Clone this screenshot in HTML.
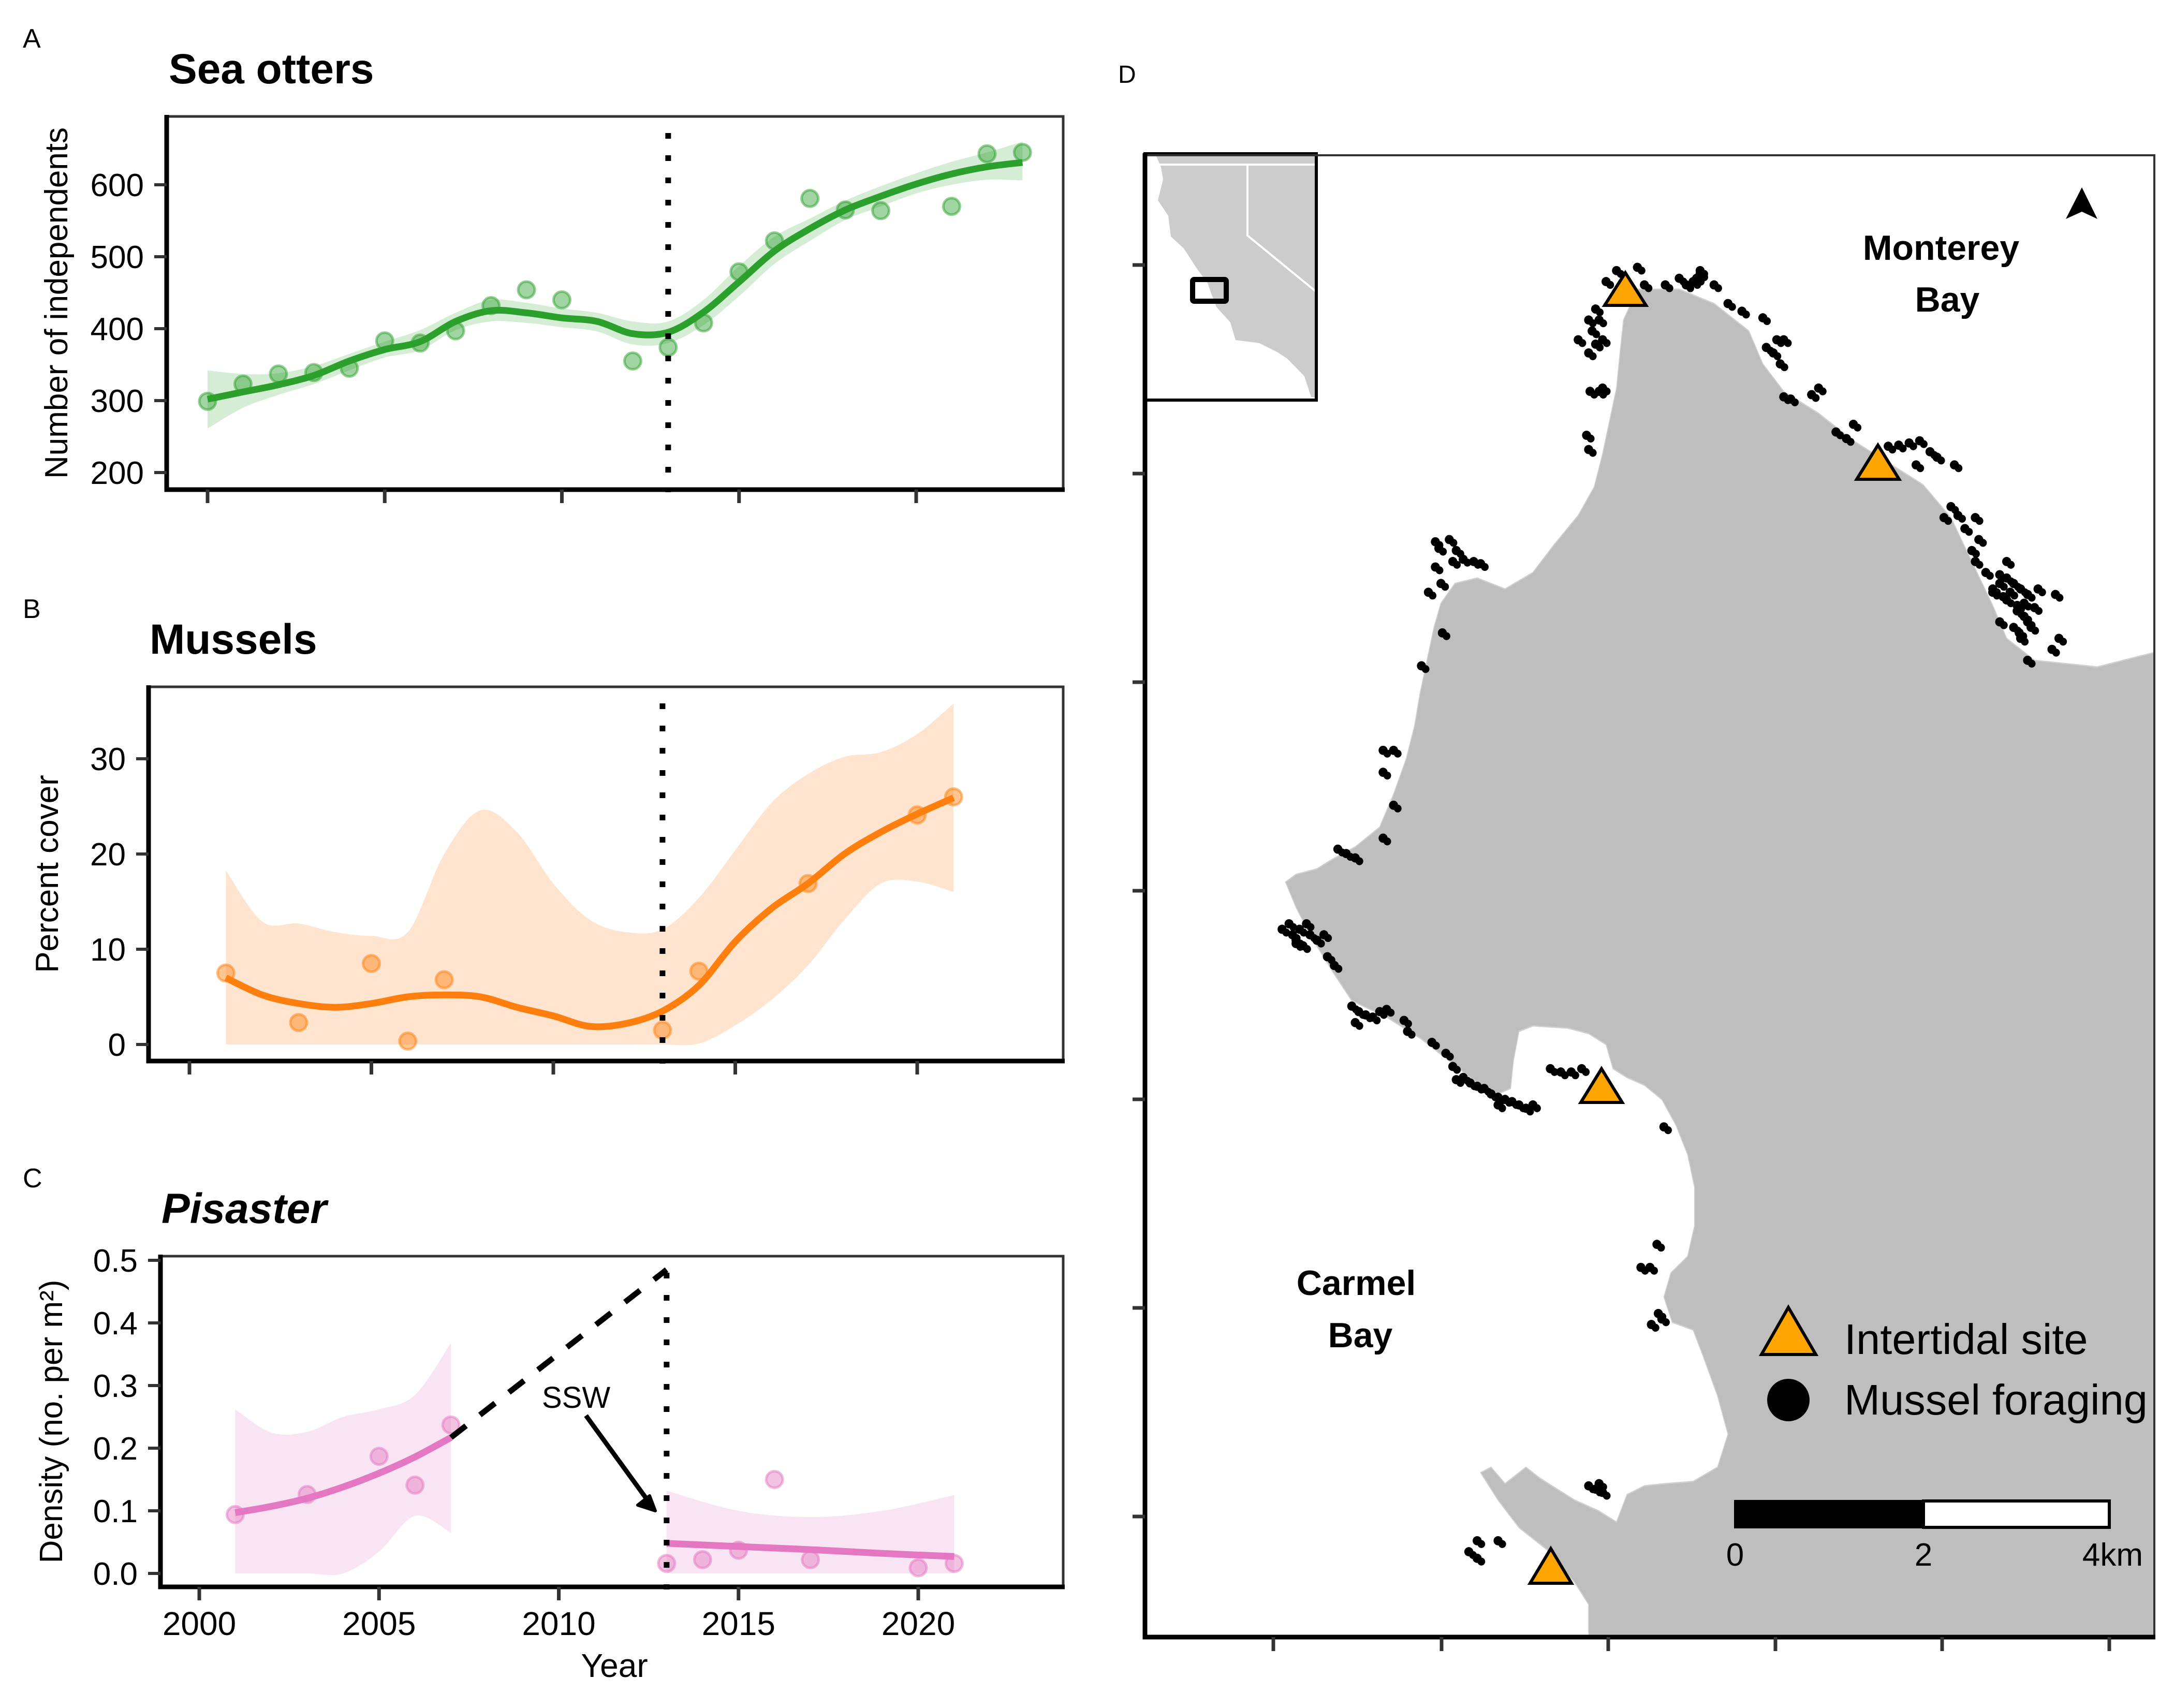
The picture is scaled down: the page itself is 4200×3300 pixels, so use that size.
<!DOCTYPE html>
<html><head><meta charset="utf-8"><title>Sea otters, mussels, Pisaster</title>
<style>
html,body{margin:0;padding:0;background:#fff;}
svg{display:block;font-family:"Liberation Sans",Arial,sans-serif;}
</style></head>
<body>
<svg id="fig" xmlns="http://www.w3.org/2000/svg" width="4200" height="3300" viewBox="0 0 4200 3300">
<rect x="0" y="0" width="4200" height="3300" fill="#fff"/>
<g id="plots"></g>

<!-- Map panel D -->
<g id="map">
  <text x="2160" y="160" font-size="48">D</text>
  <g transform="translate(2100,-18) scale(1.346,2.121)">
    <path fill="#bebebe" stroke="#d0d0d0" stroke-width="1.2" d="M770,300 L790,272 L850,272 L900,285 L950,310 L970,340 L1000,365 L1050,385 L1100,410 L1150,430 L1200,450 L1240,480 L1270,520 L1300,560 L1320,590 L1360,610 L1450,616 L1531,603 L1531,1498 L720,1498 L720,1470 L700,1450 L660,1420 L620,1400 L590,1375 L565,1350 L580,1345 L600,1360 L630,1345 L650,1355 L700,1375 L735,1385 L760,1395 L775,1370 L800,1362 L830,1360 L870,1358 L905,1345 L920,1315 L905,1280 L885,1245 L870,1220 L840,1213 L828,1190 L838,1168 L862,1153 L872,1125 L872,1090 L862,1060 L845,1033 L825,1010 L800,997 L775,990 L755,982 L745,960 L720,950 L690,945 L640,943 L620,948 L612,975 L608,1000 L590,1005 L560,995 L520,975 L480,955 L430,935 L380,920 L352,893 L322,862 L300,835 L285,812 L300,805 L330,800 L350,792 L385,780 L420,762 L440,732 L458,700 L470,670 L478,640 L488,610 L498,580 L508,558 L528,540 L560,535 L600,545 L640,530 L670,505 L705,478 L728,452 L740,422 L750,392 L760,362 L765,330 Z"/>
    <g id="dots"></g>
  </g>
  <!-- inset -->
  <g>
    <rect x="2212" y="297" width="330" height="476" fill="#fff"/>
    <path fill="#cccccc" d="M2233,300 L2542,300 L2542,768 L2533,767 L2520,727 L2487,693 L2467,680 L2433,663 L2387,657 L2377,623 L2350,593 L2340,567 L2333,547 L2313,520 L2300,500 L2287,480 L2262,457 L2257,417 L2237,387 L2247,347 L2243,323 Z"/>
    <path d="M2240,318 L2542,318 M2410,318 L2410,455 L2542,563" stroke="#fff" stroke-width="4" fill="none"/>
    <rect x="2304" y="540" width="65" height="42" rx="3" fill="none" stroke="#000" stroke-width="10"/>
    <rect x="2212" y="297" width="331" height="476" fill="none" stroke="#000" stroke-width="6"/>
  </g>
  <!-- frame -->
  <path d="M2212,300 L4162,300 L4162,3163" stroke="#333" stroke-width="4" fill="none"/>
  <path d="M2212,296 L2212,3163 L4164,3163" stroke="#000" stroke-width="9" fill="none"/>
  <g id="mapticks" stroke="#333" stroke-width="7"></g>
  <!-- site triangles -->
  <g fill="#ffa500" stroke="#000" stroke-width="6" stroke-linejoin="miter">
    <polygon points="3140,527 3100,590 3180,590"/>
    <polygon points="3628,860 3587,926 3669,926"/>
    <polygon points="3094,2065 3054,2130 3134,2130"/>
    <polygon points="2996,2992 2956,3059 3036,3059"/>
  </g>
  <polygon points="4022,362 3991,423 4022,409 4052,423" fill="#000"/>
  <g font-weight="bold" font-size="68" text-anchor="middle">
    <text x="3750" y="502">Monterey</text>
    <text x="3762" y="602">Bay</text>
    <text x="2620" y="2502">Carmel</text>
    <text x="2628" y="2603">Bay</text>
  </g>
  <!-- legend -->
  <g>
    <polygon points="3455,2526 3403,2617 3508,2617" fill="#ffa500" stroke="#000" stroke-width="6"/>
    <circle cx="3455" cy="2705" r="41" fill="#000"/>
    <text x="3563" y="2616" font-size="83">Intertidal site</text>
    <text x="3563" y="2733" font-size="83">Mussel foraging</text>
  </g>
  <!-- scale bar -->
  <g>
    <rect x="3350" y="2898" width="366" height="55" fill="#000"/>
    <rect x="3716" y="2900" width="359" height="51" fill="#fff" stroke="#000" stroke-width="6"/>
    <g font-size="62" text-anchor="middle">
      <text x="3352" y="3025">0</text>
      <text x="3716" y="3025">2</text>
      <text x="4140" y="3025" text-anchor="end">4km</text>
    </g>
  </g>
</g>
</svg>
<script>
// ---------- Panel A: Sea otters ----------
const otterYears = [2000,2001,2002,2003,2004,2005,2006,2007,2008,2009,2010,2012,2013,2014,2015,2016,2017,2018,2019,2021,2022,2023];
const otterCounts = [299,323,337,339,345,383,380,397,432,454,440,355,374,408,479,522,581,565,564,570,643,645];
const otterFitYears = [2000,2001,2002,2003,2004,2005,2006,2007,2008,2009,2010,2011,2012,2013,2014,2015,2016,2017,2018,2019,2020,2021,2022,2023];
const otterFit = [302,312,322,335,355,371,382,410,425,422,415,410,393,395,423,465,508,539,565,584,601,615,625,631];
const otterHi = [342,337,338,348,365,382,398,422,440,436,428,422,410,410,440,487,528,553,578,598,616,632,645,660];
const otterLo = [261,290,308,323,342,360,370,398,410,408,402,396,378,380,405,445,490,522,551,570,588,600,607,606];
const otterTicks = [200,300,400,500,600];

// ---------- Panel B: Mussels ----------
const musselYears = [2001,2003,2005,2006,2007,2013,2014,2017,2020,2021];
const musselCover = [7.5,2.3,8.5,0.35,6.8,1.5,7.7,16.9,24.1,26.0];
const musselFitYears = [2001,2002,2003,2004,2005,2006,2007,2008,2009,2010,2011,2012,2013,2014,2015,2016,2017,2018,2019,2020,2021];
const musselFit = [7.0,5.2,4.3,3.9,4.3,5.0,5.2,5.0,3.9,3.0,1.9,2.2,3.5,6.2,10.8,14.3,16.9,20.0,22.3,24.2,25.9];
const musselHi = [18.3,12.9,12.7,11.8,11.4,11.8,20.0,24.6,22.3,16.9,13.1,11.8,12.1,15.4,20.4,25.4,28.4,30.2,30.7,32.6,35.8];
const musselLo = [0,0,0,0,0,0,0,0,0,0,0,0,0,0.1,2.0,4.7,8.3,13.1,16.9,17.1,16.0];
const musselTicks = [0,10,20,30];

// ---------- Panel C: Pisaster ----------
const pisYears = [2001,2003,2005,2006,2007,2013,2014,2015,2016,2017,2020,2021];
const pisDensity = [0.094,0.126,0.187,0.141,0.237,0.016,0.022,0.037,0.150,0.022,0.009,0.016];
const pisFit1Years = [2001,2002,2003,2004,2005,2006,2007];
const pisFit1 = [0.097,0.107,0.120,0.138,0.160,0.186,0.217];
const pisHi1 = [0.262,0.225,0.226,0.250,0.262,0.285,0.368];
const pisLo1 = [0,0,0,0,0.035,0.092,0.065];
const pisFit2Years = [2013,2015,2017,2019,2021];
const pisFit2 = [0.048,0.043,0.038,0.032,0.027];
const pisHi2 = [0.132,0.100,0.090,0.100,0.125];
const pisLo2 = [0,0,0,0,0];
const pisPeakYear = 2013, pisPeakValue = 0.485;
const pisTicks = [0.0,0.1,0.2,0.3,0.4,0.5];
const xTickYears = [2000,2005,2010,2015,2020];
const breakYear = 2013;

const NS = 'http://www.w3.org/2000/svg';
const plots = document.getElementById('plots');
function mk(tag, attrs, parent){
  const e = document.createElementNS(NS, tag);
  for (const k in attrs) e.setAttribute(k, attrs[k]);
  (parent||plots).appendChild(e);
  return e;
}
function smooth(pts){
  let d = 'M'+pts[0][0].toFixed(1)+','+pts[0][1].toFixed(1);
  for (let i=0;i<pts.length-1;i++){
    const p0=pts[Math.max(0,i-1)], p1=pts[i], p2=pts[i+1], p3=pts[Math.min(pts.length-1,i+2)];
    const c1=[p1[0]+(p2[0]-p0[0])/6, p1[1]+(p2[1]-p0[1])/6];
    const c2=[p2[0]-(p3[0]-p1[0])/6, p2[1]-(p3[1]-p1[1])/6];
    d += ' C'+c1[0].toFixed(1)+','+c1[1].toFixed(1)+' '+c2[0].toFixed(1)+','+c2[1].toFixed(1)+' '+p2[0].toFixed(1)+','+p2[1].toFixed(1);
  }
  return d;
}

function panel(cfg){
  const g = mk('g', {});
  
  
  const X = yr => cfg.x0 + (yr-2000)*cfg.k;
  const Y = v => cfg.y0 - v*cfg.ky;
  cfg.X = X; cfg.Y = Y;
  const lab = mk('text', {x:44, y:cfg.top-133, 'font-size':52}, g);
  lab.textContent = cfg.letter;
  
  
  const title = mk('text', {x:cfg.titleX, y:cfg.top-64, 'font-size':82, 'font-weight':'bold', 'font-style':cfg.italic?'italic':'normal'}, g);
  title.textContent = cfg.title;
  
  
  const yt = mk('text', {x:0, y:0, 'font-size':62, 'text-anchor':'middle', transform:'translate('+cfg.ytX+','+((cfg.top+cfg.bottom)/2)+') rotate(-90)'}, g);
  yt.textContent = cfg.ylabel;
  
  
  mk('path', {d:'M'+cfg.left+','+cfg.top+' L'+cfg.right+','+cfg.top+' L'+cfg.right+','+cfg.bottom, stroke:'#333', 'stroke-width':5, fill:'none'}, g);
  const body = mk('g', {}, g);
  mk('path', {d:'M'+cfg.left+','+(cfg.top-3)+' L'+cfg.left+','+cfg.bottom+' L'+(cfg.right+3)+','+cfg.bottom, stroke:'#000', 'stroke-width':9, fill:'none'}, g);
  cfg.yticks.forEach(t=>{
    const y = Y(t);
    const tk = mk('line', {x1:cfg.left-24, x2:cfg.left, y1:y, y2:y, stroke:'#333', 'stroke-width':6}, g);
    
    
    const tl = mk('text', {x:cfg.left-44, y:y+22, 'font-size':62, 'text-anchor':'end'}, g);
    tl.textContent = cfg.fmt(t);
    
    
  });
  xTickYears.forEach(yr=>{
    const x = X(yr);
    const tk = mk('line', {x1:x, x2:x, y1:cfg.bottom, y2:cfg.bottom+26, stroke:'#333', 'stroke-width':7}, g);
    
    
    if (cfg.xlabels){
      const tl = mk('text', {x:x, y:cfg.bottom+93, 'font-size':64, 'text-anchor':'middle'}, g);
      tl.textContent = String(yr);
      
      
    }
  });
  cfg.body = body;
  return cfg;
}
function band(cfg, yrs, hi, lo, fill, name){
  const up = yrs.map((yr,i)=>[cfg.X(yr), cfg.Y(hi[i])]);
  const dn = yrs.map((yr,i)=>[cfg.X(yr), cfg.Y(lo[i])]).reverse();
  let d = smooth(up) + ' L' + smooth(dn).slice(1) + ' Z';
  const p = mk('path', {d:d, fill:fill, stroke:'none'}, cfg.body);
  
  
}
function fitLine(cfg, yrs, vals, color, name){
  const p = mk('path', {d:smooth(yrs.map((yr,i)=>[cfg.X(yr), cfg.Y(vals[i])])), fill:'none', stroke:color, 'stroke-width':13, 'stroke-linecap':'butt'}, cfg.body);
  
  
}
function points(cfg, yrs, vals, color){
  yrs.forEach((yr,i)=>{
    const c = mk('circle', {cx:cfg.X(yr), cy:cfg.Y(vals[i]), r:16, fill:color, 'fill-opacity':0.45, stroke:color, 'stroke-opacity':0.5, 'stroke-width':5}, cfg.body);
    
    
  });
}
function vline(cfg){
  const x = cfg.X(breakYear);
  const l = mk('line', {x1:x, x2:x, y1:cfg.top+32, y2:cfg.bottom+5, stroke:'#000', 'stroke-width':11, 'stroke-dasharray':'11 32'}, cfg.body);
  
  
}

const A = panel({name:'panel-a-sea-otters', letter:'A', title:'Sea otters', titleX:326, ylabel:'Number of independents', ytX:130,
  left:322, top:225, right:2054, bottom:946, x0:401, k:68.45, y0:357+600*1.39, ky:1.39, yticks:otterTicks, fmt:t=>String(t)});
band(A, otterFitYears, otterHi, otterLo, 'rgba(44,160,44,0.2)', 'otter-confidence-band');
points(A, otterYears, otterCounts, '#2ca02c');
fitLine(A, otterFitYears, otterFit, '#2ca02c', 'otter-trend-line');
vline(A);

const B = panel({name:'panel-b-mussels', letter:'B', title:'Mussels', titleX:289, ylabel:'Percent cover', ytX:112,
  left:287, top:1327, right:2054, bottom:2050, x0:366, k:70.3, y0:2018, ky:18.4, yticks:musselTicks, fmt:t=>String(t)});
band(B, musselFitYears, musselHi, musselLo, 'rgba(255,127,14,0.2)', 'mussel-confidence-band');
points(B, musselYears, musselCover, '#ff7f0e');
fitLine(B, musselFitYears, musselFit, '#ff7f0e', 'mussel-trend-line');
vline(B);

const C = panel({name:'panel-c-pisaster', letter:'C', title:'Pisaster', italic:true, titleX:312, ylabel:'Density (no. per m²)', ytX:120,
  left:310, top:2427, right:2054, bottom:3066, x0:385, k:69.45, y0:3040, ky:1210, yticks:pisTicks, fmt:t=>t.toFixed(1), xlabels:true});
band(C, pisFit1Years, pisHi1, pisLo1, 'rgba(227,119,194,0.2)', 'pisaster-band-pre');
band(C, pisFit2Years, pisHi2, pisLo2, 'rgba(227,119,194,0.2)', 'pisaster-band-post');
points(C, pisYears, pisDensity, '#e377c2');
fitLine(C, pisFit1Years, pisFit1, '#e377c2', 'pisaster-trend-pre');
fitLine(C, pisFit2Years, pisFit2, '#e377c2', 'pisaster-trend-post');
vline(C);
const lastPre = pisFit1Years.length-1;
const dash = mk('line', {x1:C.X(pisFit1Years[lastPre]), y1:C.Y(pisFit1[lastPre]), x2:C.X(pisPeakYear), y2:C.Y(pisPeakValue), stroke:'#000', 'stroke-width':11, 'stroke-dasharray':'37 34'}, C.body);


const ssw = mk('text', {x:1047, y:2720, 'font-size':58});
ssw.textContent = 'SSW';


const arr = mk('line', {x1:1132, y1:2735, x2:1255, y2:2904, stroke:'#000', 'stroke-width':9});


const head = mk('polygon', {points:'1266,2919 1232,2908 1255,2890', fill:'#000', stroke:'#000', 'stroke-width':6, 'stroke-linejoin':'round'});


const xt = mk('text', {x:1187, y:3240, 'font-size':64, 'text-anchor':'middle'});
xt.textContent = 'Year';



// ---------- Map foraging dots ----------
const dotX = [745,760,790,800,830,850,870,880,900,920,940,970,990,985,975,1000,995,1040,1050,1000,1010,1075,1090,1100,1150,1165,1180,1195,1210,1220,1245,1190,1230,1250,1275,1260,1270,1280,1275,1290,1310,1320,1330,1340,1350,1320,1335,1345,1330,1310,1355,1340,1365,1390,1395,1385,1350,1300,1320,1240,1325,1345,1335,1315,1360,1350,1338,
 730,735,720,725,705,730,740,720,722,735,740,717,720,500,505,520,530,540,555,565,525,500,490,508,480,510,425,440,425,440,425,
 360,372,385,280,290,295,300,305,315,320,330,340,310,300,345,355,
 380,390,400,410,420,430,385,455,460,495,515,525,530,540,550,560,570,580,590,600,610,620,630,640,590,
 665,680,695,710,828,818,795,808,810,825,820,720,730,740,735,548,560,560,590,875,860,880,1300,1310];
const dotY = [265,255,252,268,268,262,265,255,268,285,292,298,318,330,325,318,340,368,362,370,372,402,408,395,415,414,412,410,420,425,432,432,480,478,480,490,510,500,520,530,540,535,540,545,550,555,560,570,580,575,580,590,545,550,590,600,610,545,520,470,548,558,565,552,562,575,585,
 290,300,300,310,318,322,318,330,365,365,362,405,418,502,508,500,510,518,520,522,520,525,548,540,615,585,692,692,712,742,772,
 782,786,790,855,850,860,865,855,850,860,865,860,870,868,880,888,
 925,930,933,935,930,928,940,938,948,958,968,980,992,990,995,998,1000,1005,1008,1010,1012,1015,1018,1015,1015,
 982,985,985,982,1035,1142,1163,1163,1215,1210,1205,1362,1365,1368,1360,1422,1428,1412,1412,262,268,258,548,532];
const dotsG = document.getElementById('dots');
dotX.forEach((x,i)=>{
  const e = mk('ellipse', {cx:x, cy:dotY[i], rx:6.5, ry:4.2, fill:'#000'}, dotsG);
  
  
  const e2 = mk('ellipse', {cx:x+6, cy:dotY[i]+3, rx:5.5, ry:3.6, fill:'#000'}, dotsG);
  
  
});

const mapTickY = [512,915,1318,1721,2124,2527,2930];
const mapTickX = [2460,2785,3107,3430,3752,4075];
const mt = document.getElementById('mapticks');
mapTickY.forEach(y=>{
  const t = mk('line', {x1:2188, x2:2212, y1:y, y2:y}, mt);
  
  
});
mapTickX.forEach(x=>{
  const t = mk('line', {x1:x, x2:x, y1:3163, y2:3190}, mt);
  
  
});
</script>
</body></html>
